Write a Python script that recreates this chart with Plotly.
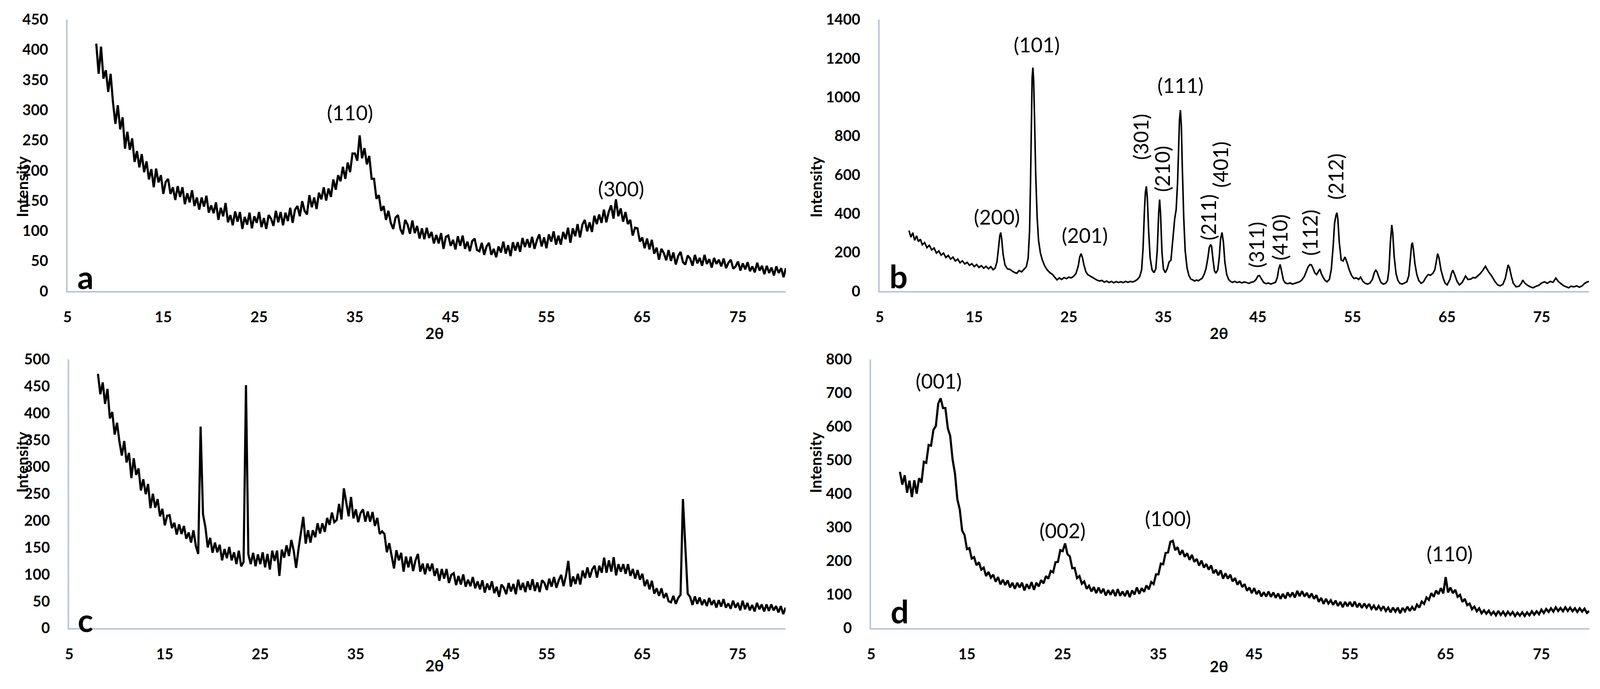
import plotly.graph_objects as go

# ---------------- data ----------------
GRID_START = 8.0   # two-theta of first sample (panels a, c, d)
GRID_STEP = 0.25   # sampling step in degrees

A_Y = [
    410, 360, 405, 352, 366, 330, 360, 312, 277, 308, 268, 288, 236, 264, 234, 253, 214, 232, 205, 227,
    197, 215, 185, 202, 172, 203, 180, 192, 161, 181, 186, 161, 172, 151, 174, 156, 172, 144, 162, 147,
    167, 141, 155, 135, 155, 140, 158, 130, 142, 129, 147, 118, 138, 124, 146, 114, 126, 109, 132, 115,
    131, 103, 123, 110, 130, 104, 124, 113, 131, 106, 121, 103, 126, 120, 108, 133, 114, 131, 109, 130,
    116, 138, 113, 135, 141, 124, 149, 133, 127, 159, 139, 155, 136, 163, 152, 172, 150, 170, 156, 185,
    168, 192, 182, 206, 186, 213, 197, 228, 228, 216, 258, 220, 237, 210, 224, 186, 186, 153, 159, 133,
    141, 118, 133, 113, 103, 122, 126, 103, 94, 118, 110, 95, 117, 96, 108, 87, 104, 86, 105, 88,
    98, 79, 93, 79, 96, 70, 90, 92, 75, 85, 69, 91, 75, 92, 70, 82, 66, 83, 87, 68,
    66, 80, 60, 74, 80, 60, 70, 56, 74, 64, 82, 62, 76, 58, 81, 67, 81, 65, 88, 73,
    86, 72, 90, 70, 84, 94, 74, 89, 71, 94, 82, 99, 77, 92, 77, 98, 86, 105, 80, 104,
    91, 111, 89, 110, 118, 99, 114, 98, 125, 111, 127, 113, 135, 114, 131, 142, 120, 152, 124, 137,
    115, 131, 111, 118, 92, 105, 104, 82, 89, 71, 87, 69, 85, 62, 72, 52, 70, 63, 51, 68,
    50, 64, 44, 58, 65, 48, 44, 59, 54, 42, 60, 46, 55, 42, 60, 45, 53, 39, 55, 45,
    52, 41, 54, 38, 47, 52, 37, 41, 49, 34, 46, 36, 48, 33, 41, 31, 47, 34, 42, 28,
    42, 30, 39, 26, 41, 30, 38, 23, 38,
]

C_Y = [
    473, 435, 457, 417, 445, 390, 402, 360, 382, 347, 321, 348, 308, 326, 279, 316, 285, 297, 256, 277,
    249, 268, 223, 250, 224, 240, 208, 222, 191, 209, 210, 186, 196, 174, 193, 175, 190, 166, 178, 159,
    182, 153, 138, 375, 212, 188, 150, 168, 140, 159, 141, 155, 126, 147, 130, 151, 126, 141, 119, 144,
    115, 123, 452, 137, 119, 140, 115, 137, 119, 141, 113, 138, 109, 144, 125, 144, 97, 146, 131, 154,
    134, 164, 144, 112, 147, 175, 207, 157, 182, 159, 182, 169, 195, 176, 195, 179, 205, 192, 215, 197,
    201, 231, 202, 260, 234, 208, 244, 204, 221, 197, 214, 221, 198, 217, 198, 216, 190, 205, 175, 180,
    175, 141, 158, 134, 111, 145, 126, 140, 105, 133, 113, 133, 106, 126, 138, 105, 120, 100, 120, 106,
    120, 97, 111, 88, 110, 92, 110, 84, 99, 102, 80, 97, 81, 100, 77, 90, 78, 95, 74, 87,
    72, 89, 66, 83, 71, 87, 65, 77, 58, 81, 75, 63, 84, 68, 82, 63, 90, 71, 84, 67,
    87, 71, 91, 69, 85, 67, 89, 84, 71, 92, 77, 95, 75, 89, 99, 78, 97, 125, 77, 96,
    82, 101, 81, 107, 93, 113, 94, 109, 116, 94, 116, 103, 131, 103, 126, 105, 132, 98, 119, 105,
    119, 101, 119, 97, 110, 92, 108, 90, 101, 78, 90, 72, 88, 64, 74, 60, 74, 56, 65, 50,
    48, 60, 45, 56, 62, 240, 141, 64, 58, 43, 59, 45, 57, 43, 53, 41, 56, 43, 52, 38,
    52, 40, 54, 38, 46, 36, 51, 38, 47, 33, 51, 35, 47, 33, 43, 31, 47, 35, 44, 31,
    44, 32, 44, 33, 41, 29, 41, 26, 38,
]

D_Y = [
    465, 427, 455, 403, 439, 390, 440, 400, 446, 433, 495, 492, 545, 543, 590, 601, 668, 684, 655, 655,
    595, 572, 502, 460, 383, 353, 290, 277, 235, 238, 207, 211, 187, 196, 174, 180, 155, 167, 150, 159,
    138, 152, 130, 144, 128, 142, 121, 135, 117, 135, 121, 135, 112, 131, 117, 137, 114, 135, 124, 143,
    133, 155, 147, 170, 166, 196, 197, 232, 229, 252, 220, 213, 178, 179, 149, 155, 132, 139, 117, 126,
    109, 122, 104, 121, 104, 117, 97, 113, 99, 114, 95, 116, 96, 109, 95, 112, 92, 112, 100, 121,
    102, 119, 108, 127, 115, 137, 131, 160, 160, 192, 190, 224, 225, 257, 260, 232, 241, 218, 232, 212,
    223, 203, 218, 197, 206, 186, 201, 180, 191, 174, 187, 163, 174, 157, 172, 147, 163, 147, 159, 139,
    149, 129, 141, 122, 131, 111, 121, 104, 119, 101, 112, 94, 107, 94, 109, 93, 106, 90, 103, 87,
    102, 88, 106, 93, 106, 91, 111, 95, 110, 94, 105, 90, 103, 87, 98, 78, 90, 72, 87, 73,
    83, 69, 82, 66, 78, 62, 78, 65, 78, 64, 79, 62, 74, 60, 73, 61, 72, 57, 67, 54,
    66, 54, 65, 51, 61, 47, 61, 49, 61, 44, 60, 50, 64, 51, 63, 53, 70, 61, 79, 72,
    91, 84, 104, 93, 112, 101, 119, 103, 152, 106, 121, 104, 114, 93, 99, 78, 87, 68, 73, 56,
    64, 50, 59, 44, 53, 43, 52, 40, 49, 38, 51, 39, 49, 37, 49, 39, 48, 36, 46, 37,
    47, 36, 47, 38, 50, 40, 50, 41, 55, 45, 57, 48, 59, 49, 62, 51, 60, 50, 62, 51,
    61, 50, 59, 48, 59, 49, 58, 45, 51,
]

B_X = [
    8.1, 8.3, 8.5, 8.7, 8.9, 9.1, 9.3, 9.5, 9.75, 10.0, 10.25, 10.5, 10.75, 11.0, 11.25, 11.5, 11.75,
    12.0, 12.25, 12.5, 12.75, 13.0, 13.25, 13.5, 13.75, 14.0, 14.25, 14.5, 14.75, 15.0, 15.25, 15.5,
    15.75, 16.0, 16.25, 16.5, 16.75, 17.0, 17.2,
    17.4, 17.55, 17.7, 17.8, 17.9, 18.05, 18.25, 18.5,
    18.75, 19.0, 19.25, 19.5, 19.75, 20.0, 20.25, 20.5,
    20.7, 20.85, 20.95, 21.05, 21.12, 21.2, 21.28, 21.38, 21.5, 21.65, 21.8, 22.0, 22.2, 22.45, 22.7, 23.0, 23.3,
    23.5, 23.75, 24.0, 24.25, 24.5, 24.75, 25.0, 25.25, 25.5, 25.75,
    26.0, 26.15, 26.3, 26.45, 26.6, 26.8, 27.0,
    27.25, 27.5, 27.75, 28.0, 28.25, 28.5, 28.75, 29.0, 29.25, 29.5, 29.75, 30.0, 30.25, 30.5, 30.75,
    31.0, 31.25, 31.5, 31.75, 32.0, 32.25, 32.5,
    32.7, 32.85, 33.0, 33.1, 33.2, 33.3, 33.45, 33.6, 33.8, 34.0,
    34.2, 34.35, 34.5, 34.6, 34.7, 34.85, 35.0, 35.2,
    35.4, 35.6, 35.8, 36.0, 36.2, 36.35, 36.5, 36.6, 36.7, 36.8, 36.9, 37.0, 37.15, 37.3, 37.5, 37.7, 37.9,
    38.1, 38.3, 38.5, 38.7, 38.9, 39.1, 39.3, 39.5,
    39.7, 39.85, 40.0, 40.1, 40.25, 40.4, 40.55,
    40.75, 40.9, 41.05, 41.2, 41.35, 41.5, 41.7, 41.9, 42.1,
    42.3, 42.55, 42.8, 43.05, 43.3, 43.55, 43.8, 44.05, 44.3, 44.55,
    44.8, 45.0, 45.15, 45.35, 45.6,
    45.85, 46.1, 46.35, 46.6, 46.85,
    47.05, 47.2, 47.35, 47.5, 47.7,
    47.9, 48.15, 48.4, 48.65, 48.9, 49.15, 49.4, 49.65, 49.9,
    50.1, 50.3, 50.5, 50.65, 50.8, 51.0, 51.2, 51.4, 51.55, 51.7, 51.9, 52.1, 52.3,
    52.55, 52.75, 52.95, 53.1, 53.25, 53.35, 53.45, 53.6, 53.8, 54.0, 54.2, 54.4, 54.65, 54.9, 55.15,
    55.4, 55.65, 55.85, 56.1, 56.35, 56.6, 56.85, 57.1,
    57.3, 57.45, 57.6, 57.8,
    58.0, 58.25, 58.5, 58.7,
    58.85, 59.0, 59.1, 59.15, 59.25, 59.4, 59.6, 59.8,
    60.0, 60.25, 60.5, 60.75,
    60.95, 61.1, 61.25, 61.33, 61.45, 61.6, 61.8, 62.0,
    62.25, 62.5, 62.75, 63.0, 63.25, 63.5, 63.7,
    63.85, 64.0, 64.15, 64.35, 64.6, 64.8,
    65.0, 65.3,
    65.45, 65.6, 65.8, 66.05,
    66.3, 66.6, 66.95, 67.2, 67.5, 67.75, 68.0, 68.25, 68.5, 68.75,
    69.0, 69.05, 69.2, 69.45, 69.75, 70.05, 70.35, 70.6, 70.9, 71.15, 71.3,
    71.45, 71.6, 71.8, 72.0, 72.3, 72.6, 72.85, 73.0, 73.2, 73.5, 73.8, 74.1, 74.4, 74.7, 75.0, 75.3,
    75.6, 75.9, 76.2, 76.5, 76.75, 77.0, 77.3, 77.6, 77.85, 78.1, 78.4, 78.7, 79.0, 79.3, 79.55, 79.8, 80.0,
]
B_Y = [
    312, 278, 301, 262, 285, 255, 268, 239, 250, 224, 236, 212, 222, 196, 207, 185, 196,
    173, 184, 165, 175, 155, 165, 146, 156, 140, 148, 133, 141, 126, 137, 122,
    131, 118, 128, 115, 126, 110, 118,
    150, 215, 285, 302, 270, 190, 135, 115,
    112, 104, 96, 92, 106, 99, 112, 125,
    170, 310, 560, 880, 1100, 1152, 1090, 880, 600, 380, 260, 195, 160, 130, 110, 95, 85,
    72, 58, 68, 60, 70, 64, 72, 68, 76, 90,
    130, 175, 193, 170, 135, 100, 85,
    78, 70, 64, 56, 52, 55, 46, 52, 44, 50, 43, 49, 44, 48, 44,
    50, 45, 50, 47, 52, 60, 75,
    110, 220, 420, 510, 540, 480, 300, 170, 110, 95,
    115, 210, 400, 472, 400, 200, 115, 95,
    115, 150, 160, 260, 375, 420, 560, 720, 880, 933, 850, 640, 380, 210, 120, 80, 62,
    58, 52, 57, 53, 60, 66, 85, 115,
    170, 225, 240, 230, 160, 105, 92,
    110, 170, 270, 302, 250, 150, 85, 60, 50,
    45, 50, 44, 48, 42, 47, 44, 40, 46, 48,
    60, 78, 80, 65, 45,
    38, 42, 36, 40, 45,
    70, 115, 137, 105, 55,
    42, 38, 42, 36, 40, 45, 48, 58, 75,
    100, 125, 137, 135, 120, 95, 85, 100, 114, 90, 70, 55, 48,
    60, 110, 230, 350, 390, 404, 370, 250, 160, 155, 176, 150, 110, 80, 65,
    68, 60, 72, 50, 40, 36, 42, 60,
    95, 108, 98, 70,
    45, 36, 40, 55,
    110, 250, 330, 341, 300, 180, 90, 55,
    40, 36, 42, 48,
    80, 160, 240, 250, 210, 140, 85, 55,
    40, 48, 70, 85, 82, 92, 110,
    150, 193, 170, 110, 65, 40,
    32, 60,
    90, 108, 85, 50,
    32, 45, 78, 60, 62, 70, 68, 78, 90, 105,
    122, 128, 115, 95, 75, 50, 32, 27, 35, 65, 100,
    135, 120, 75, 40, 22, 25, 40, 57, 42, 30, 22, 17, 25, 30, 42, 48,
    40, 50, 45, 67, 50, 40, 28, 22, 17, 25, 22, 27, 20, 28, 40, 47, 50,
]
assert len(B_X) == len(B_Y), (len(B_X), len(B_Y))

A_LABELS = ["(110)", "(300)"]
A_LAB_X = [34.5, 62.8]
A_LAB_Y = [296, 170]

B_LABELS = ["(200)", "(101)", "(201)", "(301)", "(210)", "(111)", "(211)", "(401)",
            "(311)", "(410)", "(112)", "(212)"]
B_LAB_X = [17.4, 21.6, 26.7, 32.6, 34.85, 36.8, 39.7, 41.0, 44.8, 47.3, 50.5, 53.2]
B_LAB_Y = [384, 1272, 289, 795, 629, 1062, 380, 651, 237, 277, 300, 590]
B_LAB_ROT = [0, 0, 0, -90, -90, 0, -90, -90, -90, -90, -90, -90]

D_LABELS = ["(001)", "(002)", "(100)", "(110)"]
D_LAB_X = [12.05, 25.0, 36.0, 65.4]
D_LAB_Y = [736, 291, 327, 222]

PANEL_LETTERS = ["a", "b", "c", "d"]
PANEL_LETTER_X = [6.9, 7.0, 6.7, 8.0]
PANEL_LETTER_Y = [24, 79, 16, 51]

Y_RANGES = [[0, 450], [0, 1400], [0, 500], [0, 800]]
Y_DTICKS = [50, 200, 50, 100]
X_RANGE = [5, 80]
X_TICK0 = 5
X_DTICK = 10
X_TITLE = "2θ"
Y_TITLE = "Intensity"

# ---------------- figure ----------------
FONT = "Lato"
AXIS_COLOR = "#B9C6DB"

def grid_x(n):
    return [GRID_START + GRID_STEP * i for i in range(n)]

fig = go.Figure()
line_style = dict(color="black", width=5.5)
fig.add_trace(go.Scatter(x=grid_x(len(A_Y)), y=A_Y, mode="lines", line=line_style,
                         xaxis="x", yaxis="y", showlegend=False))
fig.add_trace(go.Scatter(x=B_X, y=B_Y, mode="lines", line=dict(color="black", width=4),
                         xaxis="x2", yaxis="y2", showlegend=False))
fig.add_trace(go.Scatter(x=grid_x(len(C_Y)), y=C_Y, mode="lines", line=line_style,
                         xaxis="x3", yaxis="y3", showlegend=False))
fig.add_trace(go.Scatter(x=grid_x(len(D_Y)), y=D_Y, mode="lines", line=line_style,
                         xaxis="x4", yaxis="y4", showlegend=False))

# panel geometry as fractions of the page
X_DOMAINS = [[0.0422, 0.4912], [0.5498, 0.9931], [0.0433, 0.4910], [0.5445, 0.9933]]
Y_DOMAINS = [[0.5775, 0.9717], [0.5775, 0.9717], [0.0884, 0.4785], [0.0884, 0.4785]]

tickfont = dict(family=FONT, size=38, color="black", weight="bold")
layout = dict(autosize=True, margin=dict(l=0, r=0, t=0, b=0),
              paper_bgcolor="white", plot_bgcolor="white", showlegend=False)
for i in range(4):
    sx = "" if i == 0 else str(i + 1)
    layout["xaxis" + sx] = dict(
        domain=X_DOMAINS[i], anchor="y" + sx, range=X_RANGE, tick0=X_TICK0, dtick=X_DTICK,
        showline=True, linecolor=AXIS_COLOR, linewidth=4, showgrid=False, zeroline=False,
        ticks="", tickfont=tickfont, ticklabelstandoff=30, automargin=False)
    layout["yaxis" + sx] = dict(
        domain=Y_DOMAINS[i], anchor="x" + sx, range=Y_RANGES[i], tick0=0, dtick=Y_DTICKS[i],
        showline=True, linecolor=AXIS_COLOR, linewidth=4, showgrid=False, zeroline=False,
        ticks="", tickfont=tickfont, ticklabelstandoff=38, automargin=False)
fig.update_layout(**layout)

ann = []
label_font = dict(family=FONT, size=52, color="black")
def add_labels(texts, xs, ys, ax, rots=None):
    for k, t in enumerate(texts):
        ann.append(dict(text=t, x=xs[k], y=ys[k], xref="x" + ax, yref="y" + ax,
                        showarrow=False, font=label_font,
                        textangle=(rots[k] if rots else 0)))
add_labels(A_LABELS, A_LAB_X, A_LAB_Y, "")
add_labels(B_LABELS, B_LAB_X, B_LAB_Y, "2", B_LAB_ROT)
add_labels(D_LABELS, D_LAB_X, D_LAB_Y, "4")

letter_font = dict(family=FONT, size=82, color="black", weight="bold")
for i, L in enumerate(PANEL_LETTERS):
    sx = "" if i == 0 else str(i + 1)
    ann.append(dict(text=L, x=PANEL_LETTER_X[i], y=PANEL_LETTER_Y[i], xref="x" + sx, yref="y" + sx,
                    showarrow=False, font=letter_font))

title_font = dict(family=FONT, size=40, color="black", weight="bold")
YT_X = [0.0076, 0.5100, 0.0076, 0.5100]
XT_Y = [0.5162, 0.5162, 0.0190, 0.0180]
XT_X = [0.2655, 0.7680, 0.2655, 0.7680]
for i in range(4):
    yd = Y_DOMAINS[i]
    ann.append(dict(text=Y_TITLE, x=YT_X[i], y=(yd[0] + yd[1]) / 2, xref="paper", yref="paper",
                    textangle=-90, showarrow=False, font=title_font))
    ann.append(dict(text=X_TITLE, x=XT_X[i], y=XT_Y[i], xref="paper", yref="paper",
                    showarrow=False, font=title_font))

fig.update_layout(annotations=ann)

# fill the browser viewport exactly (no page margin, no overflow)
no_margin = ("document.documentElement.style.margin='0';document.body.style.margin='0';"
             "document.documentElement.style.overflow='hidden';document.body.style.overflow='hidden';")
fig.write_html("out.html", default_width="100vw", default_height="100vh",
               config={"displayModeBar": False}, post_script=no_margin)
